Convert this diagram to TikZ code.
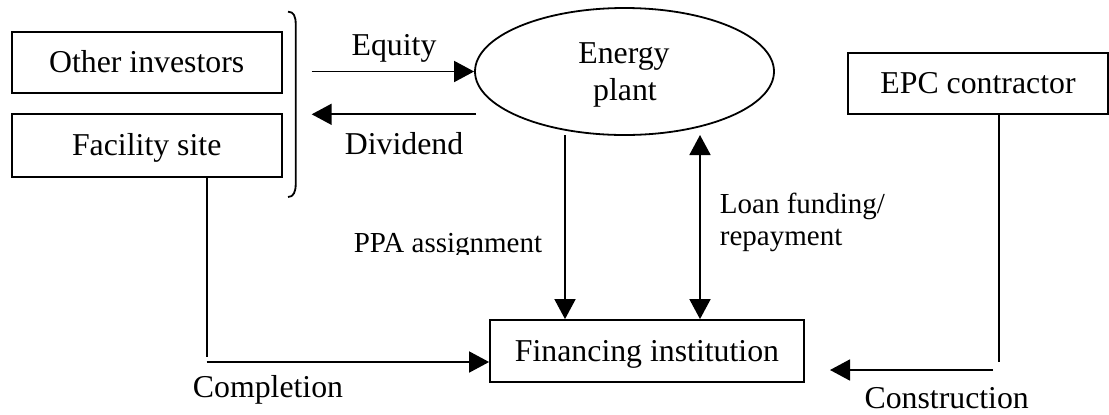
\documentclass[tikz,border=0pt]{standalone}
\usepackage{fontspec}
\setmainfont{Liberation Serif}
\usetikzlibrary{arrows.meta,shapes.geometric}
\begin{document}
\begin{tikzpicture}[x=0.5pt,y=-0.5pt, line width=0.9pt,
  main/.style={font=\fontsize{15.9}{18.5}\selectfont, inner sep=0pt},
  small/.style={font=\fontsize{14.5}{16}\selectfont, inner sep=0pt},
  box/.style={draw, rectangle, font=\fontsize{15.9}{18.5}\selectfont, text height=10.4pt, text depth=0pt, inner sep=0pt},
  arr/.style={-{Triangle[length=10pt,width=10.5pt]}},
  darr/.style={{Triangle[length=10pt,width=10.5pt]}-{Triangle[length=10pt,width=10.5pt]}}]
\useasboundingbox (0,0) rectangle (1109,414);
% boxes
\node[box, minimum width=135pt, minimum height=30.8pt] (oi) at (146.7,62.5) {Other investors};
\node[box, minimum width=135pt, minimum height=31.2pt] (fs) at (146.7,145.5) {Facility site};
\node[box, minimum width=157pt, minimum height=31pt] (fi) at (647,351) {Financing institution};
\node[box, minimum width=130pt, minimum height=30.5pt] (epc) at (978,83.5) {EPC contractor};
\node[draw, ellipse, minimum width=149.5pt, minimum height=63.5pt, inner sep=0pt] (ep) at (624.5,71.5) {};
\node[main, anchor=base] (ep1) at (624,63) {Energy};
\node[main, anchor=base] (ep2) at (625,100) {plant};
% bracket
\draw (288,11.7) .. controls (293.5,11.7) and (295.7,16) .. (295.7,24) -- (295.7,184) .. controls (295.7,192) and (293.5,197) .. (288,197);
% connectors
\coordinate (eqs) at (311.7,71.5);
\draw[arr] (eqs) -- (ep.west);
\coordinate (dvs) at (476,114.3);
\coordinate (dvt) at (311.7,114.3);
\draw[arr] (dvs) -- (dvt);
\coordinate (ppas) at (565,135);
\draw[arr] (ppas) -- (ppas |- fi.north);
\coordinate (lns) at (700,135);
\draw[darr] (lns) -- (lns |- fi.north);
\coordinate (fsl) at (206.7,357);
\draw (fsl |- fs.south) -- (fsl);
\coordinate (cps) at (206.7,362);
\draw[arr] (cps) -- (cps -| fi.west);
\coordinate (epl) at (999,362);
\draw (epl |- epc.south) -- (epl);
\coordinate (cns) at (993,370);
\coordinate (cnt) at (830,370);
\draw[arr] (cns) -- (cnt);
% labels
\node[main, anchor=base] (leq) at (394,55) {Equity};
\node[main, anchor=base] (ldv) at (404,154) {Dividend};
\begin{scope}
\clip (330,200) rectangle (560,254);
\node[small, anchor=base] (lppa) at (448,252) {PPA assignment};
\end{scope}
\node[small, anchor=base west] (lln1) at (719,213) {Loan funding/};
\node[small, anchor=base west] (lln2) at (719,245) {repayment};
\node[main, anchor=base] (lcp) at (268,397) {Completion};
\node[main, anchor=base] (lcn) at (946.7,408) {Construction};
\end{tikzpicture}
\end{document}
